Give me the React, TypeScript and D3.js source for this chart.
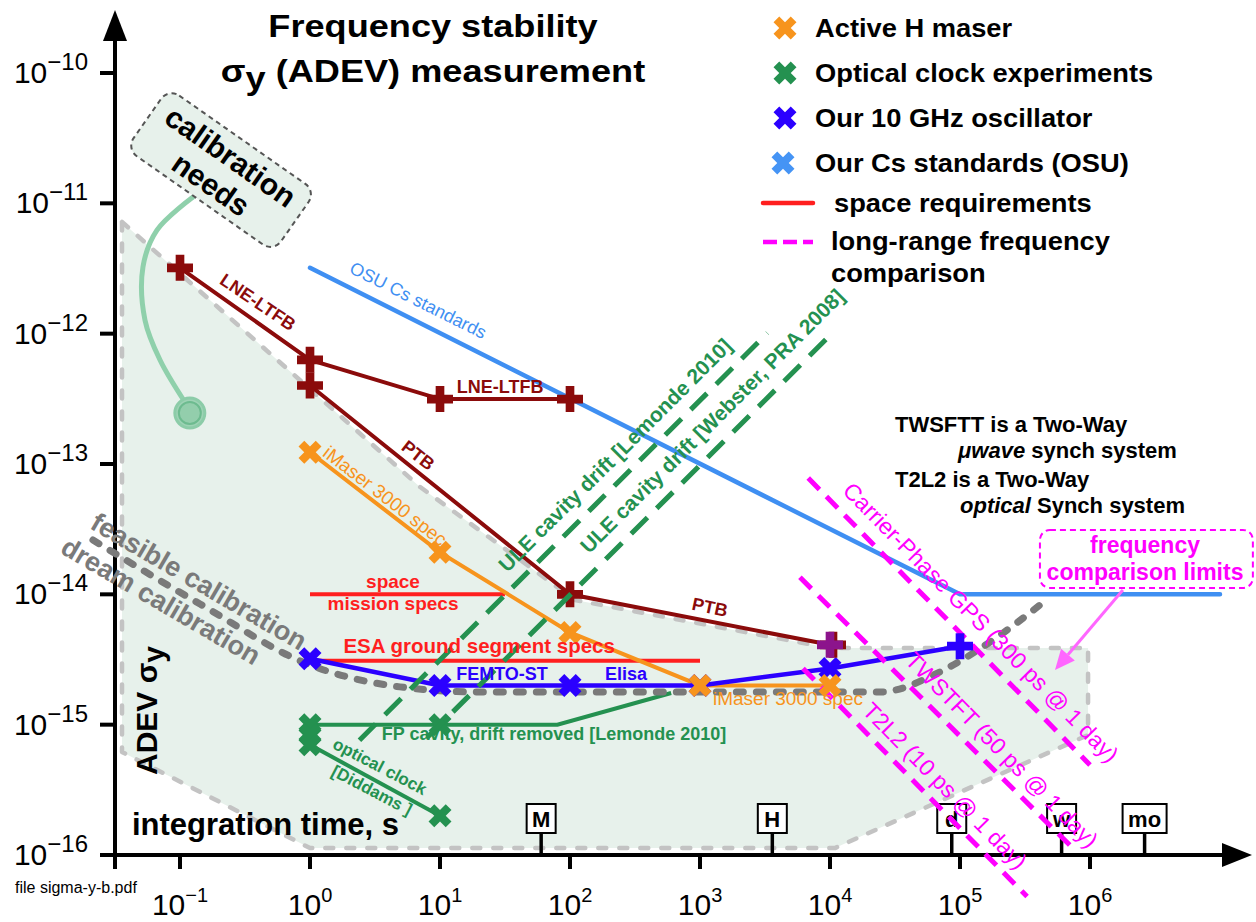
import React from "react";
import * as d3 from "d3";

// ---------- axis ticks ----------
const xTickValues = [0.1, 1, 10, 100, 1e3, 1e4, 1e5, 1e6];
const xTickExponents = ["−1", "0", "1", "2", "3", "4", "5", "6"];
const yTickValues = [1e-10, 1e-11, 1e-12, 1e-13, 1e-14, 1e-15, 1e-16];
const yTickExponents = ["−10", "−11", "−12", "−13", "−14", "−15", "−16"];

// ---------- series ----------
const lneTau = [0.1, 1, 10, 100];
const lneSigma = [3.2e-12, 6.3e-13, 3.15e-13, 3.15e-13];
const ptbTau = [1, 100, 1e4];
const ptbSigma = [4e-13, 1e-14, 4.1e-15];
const osuTau = [1, 1e5, 1e7];
const osuSigma = [3.2e-12, 1e-14, 1e-14];
const imaserTau = [1, 10, 100, 1e3, 1e4];
const imaserSigma = [1.23e-13, 2.1e-14, 5.1e-15, 2e-15, 2e-15];
const oscTau = [1, 10, 100, 1e3, 1e4, 1e5];
const oscSigma = [3.2e-15, 2e-15, 2e-15, 2e-15, 2.7e-15, 4e-15];
const fpTau = [1, 10, 80, 600];
const fpSigma = [1e-15, 1e-15, 1e-15, 1.75e-15];
const diddamsTau = [1, 10];
const diddamsSigma = [7e-16, 2e-16];
const greenMarkTau = [1, 1, 1, 10, 10];
const greenMarkSigma = [1e-15, 8.4e-16, 7e-16, 1e-15, 2e-16];
const uleLemondeTau = [2.4, 3300];
const uleLemondeSigma = [7.6e-16, 1.01e-12];
const uleWebsterTau = [8, 1.04e4];
const uleWebsterSigma = [8e-16, 1.01e-12];
const spaceMissionTau = [1, 31.6];
const spaceMissionSigma = [1e-14, 1e-14];
const esaTau = [1, 1e3];
const esaSigma = [3.1e-15, 3.1e-15];
const gpsTau = [6800, 1e6];
const gpsSigma = [7.8e-14, 4.9e-16];
const twstftTau = [5870, 7.0e5];
const twstftSigma = [1.35e-14, 1.19e-16];
const t2l2Tau = [6200, 3.28e5];
const t2l2Sigma = [2.7e-15, 4.8e-17];
const calibTau = [0.0214, 0.1426, 1, 4.92, 20.3, 2.43e4, 7.0e4, 1.7e5, 4.12e5];
const calibSigma = [2.61e-14, 8.43e-15, 2.87e-15, 1.95e-15, 1.78e-15, 1.78e-15, 2.54e-15, 4.3e-15, 8.28e-15];
const regionTau = [0.0358, 7.02, 49.2, 109, 1e4, 9.66e5, 9.66e5, 1.09e4, 1, 0.0358];
const regionSigma = [7.2e-12, 6.67e-14, 1.62e-14, 9.05e-15, 3.87e-15, 3.87e-15, 8.33e-16, 1.13e-16, 1.13e-16, 6.17e-16];
const connectorTau = [0.126, 0.0665, 0.0519, 0.0538, 0.0702, 0.109];
const connectorSigma = [1.12e-11, 6.24e-12, 3.25e-12, 1.27e-12, 6.28e-13, 2.99e-13];

const timeMarkTau = [60, 3600, 86400, 604800, 2.63e6];
const timeMarkLabels = ["M", "H", "d", "w", "mo"];

const legendLabels = ["Active H maser", "Optical clock experiments", "Our 10 GHz oscillator", "Our Cs standards (OSU)"];
const legendColors = ["#f7941d", "#249150", "#2b00ff", "#4594f5"];

const C = {
  darkRed: "#8b0b0b",
  purple: "#8c148c",
  osu: "#3f8ff2",
  orange: "#f7941d",
  green: "#249150",
  blue: "#2b00ff",
  red: "#ff1f1f",
  magenta: "#ff00ff",
  gray: "#7a7a7a",
  regionStroke: "#c3c3c3",
  regionFill: "#e7f1eb",
};

type Pt = [number, number];

function Label(props: any) {
  const { p, rot = 0, sx = 1, size, weight = 700, fill = "#000", anchor = "middle", dy = "0.35em", children, style } = props;
  return (
    <g transform={`translate(${p[0]},${p[1]}) rotate(${rot}) scale(${sx},1)`}>
      <text textAnchor={anchor} dy={dy} fontSize={size} fontWeight={weight} fill={fill} style={style}>
        {children}
      </text>
    </g>
  );
}

export default function App() {
  const x = d3.scaleLog().domain([1, 1e5]).range([310, 960]);
  const y = d3.scaleLog().domain([1e-16, 1e-10]).range([855, 73]);
  const P = (t: number, s: number): Pt => [x(t), y(s)];
  const zip = (ts: number[], ss: number[]) => ts.map((t, i) => [t, ss[i]] as Pt);
  const line = d3.line<Pt>().x((d) => x(d[0])).y((d) => y(d[1]));
  const smooth = d3.line<Pt>().x((d) => x(d[0])).y((d) => y(d[1])).curve(d3.curveMonotoneX);
  const bendy = d3.line<Pt>().x((d) => x(d[0])).y((d) => y(d[1])).curve(d3.curveCatmullRom.alpha(0.5));

  const plusPath = d3.symbol().type(d3.symbolCross).size(375)() as string;
  const crossPath = d3.symbol().type(d3.symbolCross).size(330)() as string;

  const Plus = ({ t, s, color, dx = 0 }: any) => (
    <path d={plusPath} transform={`translate(${x(t) + dx},${y(s)})`} fill={color} />
  );
  const Xm = ({ t, s, color }: any) => (
    <path d={crossPath} transform={`translate(${x(t)},${y(s)}) rotate(45)`} fill={color} />
  );

  const axisY = y(1e-16);
  const axisX = 115;

  // arrow for "frequency comparison limits"
  const a0 = P(1.79e6, 1.08e-14);
  const a1 = P(5.38e5, 2.63e-15);
  const ang = Math.atan2(a1[1] - a0[1], a1[0] - a0[0]);
  const ux = Math.cos(ang), uy = Math.sin(ang);
  const headLen = 20, headW = 9;
  const hb: Pt = [a1[0] - ux * headLen, a1[1] - uy * headLen];
  const head = `M${a1[0]},${a1[1]}L${hb[0] - uy * headW},${hb[1] + ux * headW}L${hb[0] + uy * headW},${hb[1] - ux * headW}Z`;

  const boxTL = P(4.12e5, 3.12e-14);
  const boxBR = P(1.79e7, 1.12e-14);
  const calBox = P(0.207, 1.8e-11);

  return (
    <svg
      width={1256}
      height={922}
      style={{ position: "absolute", left: 0, top: 0, background: "#fff" }}
      fontFamily="'Liberation Sans', Arial, Helvetica, sans-serif"
    >
      <rect x={0} y={0} width={1256} height={922} fill="#fff" />

      {/* feasible region */}
      <path
        d={line(zip(regionTau, regionSigma)) + "Z"}
        fill={C.regionFill}
        stroke={C.regionStroke}
        strokeWidth={4.5}
        strokeDasharray="8 13"
        strokeLinecap="round"
        strokeLinejoin="round"
      />

      {/* calibration needs annotation */}
      <path d={bendy(zip(connectorTau, connectorSigma)) as string} fill="none" stroke="#8fd0ab" strokeWidth={5} strokeLinecap="round" />
      <circle cx={x(0.119)} cy={y(2.46e-13)} r={15} fill="#9ed3b5" stroke="#8ccca8" strokeWidth={3} />
      <circle cx={x(0.119)} cy={y(2.46e-13)} r={11} fill="#93ceac" stroke="#6dbb8f" strokeWidth={2} />
      <g transform={`translate(${calBox[0]},${calBox[1]}) rotate(35)`}>
        <rect x={-90} y={-37} width={180} height={74} rx={13} fill={C.regionFill} stroke="#555" strokeWidth={2} strokeDasharray="5 4" />
        <text y={-6} textAnchor="middle" fontSize={30} fontWeight={700}>calibration</text>
        <text y={28} textAnchor="middle" fontSize={30} fontWeight={700}>needs</text>
      </g>

      {/* axes */}
      <line x1={axisX} x2={axisX} y1={38} y2={869} stroke="#000" strokeWidth={4} />
      <path d={`M${axisX - 12},41L${axisX + 12},41L${axisX},10Z`} fill="#000" />
      <line x1={axisX - 2} x2={1224} y1={axisY} y2={axisY} stroke="#000" strokeWidth={4} />
      <path d={`M1222,${axisY - 12}L1222,${axisY + 12}L1252,${axisY}Z`} fill="#000" />
      {yTickValues.map((v, i) => (
        <g key={"yt" + i}>
          <line x1={100} x2={axisX} y1={y(v)} y2={y(v)} stroke="#000" strokeWidth={4} />
          <text x={88} y={y(v) + 10} textAnchor="end" fontSize={30}>
            10<tspan dy={-13} fontSize={24}>{yTickExponents[i]}</tspan>
          </text>
        </g>
      ))}
      {xTickValues.map((v, i) => (
        <g key={"xt" + i}>
          <line x1={x(v)} x2={x(v)} y1={axisY} y2={axisY + 14} stroke="#000" strokeWidth={4} />
          <text x={x(v)} y={915} textAnchor="middle" fontSize={30}>
            10<tspan dy={-13} fontSize={20}>{xTickExponents[i]}</tspan>
          </text>
        </g>
      ))}

      {/* requirement lines */}
      <path d={line(zip(spaceMissionTau, spaceMissionSigma)) as string} stroke={C.red} strokeWidth={4} fill="none" />
      <path d={line(zip(esaTau, esaSigma)) as string} stroke={C.red} strokeWidth={4} fill="none" />

      {/* optical clock experiments */}
      <path d={line(zip(fpTau, fpSigma)) as string} stroke={C.green} strokeWidth={4} fill="none" />
      <path d={line(zip(diddamsTau, diddamsSigma)) as string} stroke={C.green} strokeWidth={4} fill="none" />

      {/* calibration dream line */}
      <path
        d={smooth(zip(calibTau, calibSigma)) as string}
        stroke={C.gray}
        strokeWidth={7}
        strokeDasharray="7 13"
        strokeLinecap="round"
        fill="none"
      />

      {/* iMaser */}
      <path d={line(zip(imaserTau, imaserSigma)) as string} stroke={C.orange} strokeWidth={4} fill="none" />
      {/* 10 GHz oscillator */}
      <path d={line(zip(oscTau, oscSigma)) as string} stroke={C.blue} strokeWidth={4.5} fill="none" />
      {/* LNE / PTB */}
      <path d={line(zip(lneTau, lneSigma)) as string} stroke={C.darkRed} strokeWidth={4} fill="none" />
      <path d={line(zip(ptbTau, ptbSigma)) as string} stroke={C.darkRed} strokeWidth={4} fill="none" />
      {/* OSU */}
      <path d={line(zip(osuTau, osuSigma)) as string} stroke={C.osu} strokeWidth={4.5} fill="none" strokeLinecap="round" />

      {/* time marks */}
      {timeMarkTau.map((t, i) => {
        const w = timeMarkLabels[i].length > 1 ? 44 : 29;
        return (
          <g key={"tm" + i}>
            <line x1={x(t)} x2={x(t)} y1={axisY - 23} y2={axisY} stroke="#000" strokeWidth={3.5} />
            <rect x={x(t) - w / 2} y={axisY - 51} width={w} height={29} fill="#fff" stroke="#000" strokeWidth={2} />
            <text x={x(t)} y={axisY - 28} textAnchor="middle" fontSize={22} fontWeight={700}>
              {timeMarkLabels[i]}
            </text>
          </g>
        );
      })}

      {/* long range comparison */}
      {[
        [gpsTau, gpsSigma],
        [twstftTau, twstftSigma],
        [t2l2Tau, t2l2Sigma],
      ].map((d, i) => (
        <path key={"mg" + i} d={line(zip(d[0], d[1])) as string} stroke={C.magenta} strokeWidth={5} strokeDasharray="16 10" fill="none" />
      ))}

      {/* markers */}
      {greenMarkTau.map((t, i) => (
        <Xm key={"gm" + i} t={t} s={greenMarkSigma[i]} color={C.green} />
      ))}
      {oscTau.slice(0, 5).map((t, i) => (
        <Xm key={"bm" + i} t={t} s={oscSigma[i]} color={C.blue} />
      ))}
      <Plus t={oscTau[5]} s={oscSigma[5]} color={C.blue} />
      {imaserTau.map((t, i) => (
        <Xm key={"om" + i} t={t} s={imaserSigma[i]} color={C.orange} />
      ))}
      {lneTau.map((t, i) => (
        <Plus key={"lm" + i} t={t} s={lneSigma[i]} color={C.darkRed} />
      ))}
      {ptbTau.slice(0, 2).map((t, i) => (
        <Plus key={"pm" + i} t={t} s={ptbSigma[i]} color={C.darkRed} />
      ))}
      <Plus t={ptbTau[2]} s={ptbSigma[2]} color={C.darkRed} dx={3} />
      <Plus t={ptbTau[2]} s={ptbSigma[2]} color={C.purple} />

      {/* ULE cavity drift */}
      <path d={line(zip(uleLemondeTau, uleLemondeSigma)) as string} stroke={C.green} strokeWidth={5} strokeDasharray="23 13" fill="none" />
      <path d={line(zip(uleWebsterTau, uleWebsterSigma)) as string} stroke={C.green} strokeWidth={5} strokeDasharray="23 13" fill="none" />

      {/* frequency comparison limits box + arrow */}
      <rect
        x={boxTL[0]}
        y={boxTL[1]}
        width={boxBR[0] - boxTL[0]}
        height={boxBR[1] - boxTL[1]}
        rx={10}
        fill="#fff"
        stroke={C.magenta}
        strokeWidth={2}
        strokeDasharray="6 4"
      />
      <Label p={P(2.65e6, 2.07e-14)} size={23} fill={C.magenta} dy="0">frequency</Label>
      <Label p={P(2.65e6, 1.29e-14)} size={23} fill={C.magenta} dy="0">comparison limits</Label>
      <line x1={a0[0]} y1={a0[1]} x2={hb[0]} y2={hb[1]} stroke="#ff66ff" strokeWidth={3} />
      <path d={head} fill="#ff66ff" />

      {/* series labels */}
      <Label p={P(0.398, 1.75e-12)} rot={34} size={18} fill={C.darkRed}>LNE-LTFB</Label>
      <Label p={P(29, 3.5e-13)} size={18} fill={C.darkRed} dy="0">LNE-LTFB</Label>
      <Label p={P(6.8, 1.17e-13)} rot={38} size={18} fill={C.darkRed}>PTB</Label>
      <Label p={P(1190, 8e-15)} rot={12} size={18} fill={C.darkRed}>PTB</Label>
      <Label p={P(6.8, 1.81e-12)} rot={26.6} size={18} weight={400} fill={C.osu}>OSU Cs standards</Label>
      <Label p={P(3.78, 5.7e-14)} rot={37.6} size={19} weight={400} fill={C.orange}>iMaser 3000 spec</Label>
      <Label p={P(4750, 1.42e-15)} size={19} weight={400} fill={C.orange} dy="0">iMaser 3000 spec</Label>
      <Label p={P(4.35, 1.12e-14)} size={19} fill={C.red} dy="0">space</Label>
      <Label p={P(4.35, 7.6e-15)} size={19} fill={C.red} dy="0">mission specs</Label>
      <Label p={P(20, 3.55e-15)} size={20.5} fill={C.red} dy="0">ESA ground segment specs</Label>
      <Label p={P(30, 2.2e-15)} size={18} fill={C.blue} dy="0">FEMTO-ST</Label>
      <Label p={P(270, 2.2e-15)} size={18} fill={C.blue} dy="0">Elisa</Label>
      <Label p={P(75.3, 7.6e-16)} size={18} fill={C.green} dy="0">FP cavity, drift removed [Lemonde 2010]</Label>
      <Label p={P(3.45, 4.8e-16)} rot={27.6} size={17} fill={C.green}>optical clock</Label>
      <Label p={P(3.0, 3.15e-16)} rot={27.6} size={17} fill={C.green}>[Diddams ]</Label>
      <Label p={P(222, 1.17e-13)} rot={-45} size={21} fill={C.green}>ULE cavity drift [Lemonde 2010]</Label>
      <Label p={P(1240, 2.14e-13)} rot={-45} size={21} fill={C.green}>ULE cavity drift [Webster, PRA 2008]</Label>
      <Label p={P(1.45e5, 6.1e-15)} rot={45.5} size={23} weight={400} fill={C.magenta}>Carrier-Phase GPS (300 ps @ 1 day)</Label>
      <Label p={P(2.1e5, 6.4e-16)} rot={45.5} size={23} weight={400} fill={C.magenta}>TWSTFT (50 ps @ 1 day)</Label>
      <Label p={P(7.67e4, 3.4e-16)} rot={45.5} size={23} weight={400} fill={C.magenta}>T2L2 (10 ps @ 1 day)</Label>
      <Label p={P(0.14, 1.26e-14)} rot={30.3} size={27} fill={C.gray}>feasible calibration</Label>
      <Label p={P(0.0714, 8.9e-15)} rot={30.3} size={27} fill={C.gray}>dream calibration</Label>

      {/* notes */}
      <Label p={P(3.16e4, 1.76e-13)} size={22} anchor="start" dy="0">TWSFTT is a Two-Way</Label>
      <Label p={P(9.66e4, 1.11e-13)} size={22} anchor="start" dy="0">
        <tspan fontStyle="italic">μwave</tspan> synch system
      </Label>
      <Label p={P(3.16e4, 6.67e-14)} size={22} anchor="start" dy="0">T2L2 is a Two-Way</Label>
      <Label p={P(1e5, 4.2e-14)} size={22} anchor="start" dy="0">
        <tspan fontStyle="italic">optical</tspan> Synch system
      </Label>

      {/* axis titles */}
      <g transform={`translate(157,775) rotate(-90)`}>
        <text fontSize={30} fontWeight={700}>
          ADEV σ<tspan dy={7}>y</tspan>
        </text>
      </g>
      <text x={132} y={835} fontSize={31} fontWeight={700}>integration time, s</text>
      <text x={15} y={893} fontSize={16}>file sigma-y-b.pdf</text>

      {/* title */}
      <Label p={[433, 37]} size={32} sx={1.13} dy="0">Frequency stability</Label>
      <Label p={[433, 82]} size={32} sx={1.13} dy="0">
        σ<tspan dy={7}>y</tspan>
        <tspan dy={-7}> (ADEV) measurement</tspan>
      </Label>

      {/* legend */}
      {legendLabels.map((lab, i) => (
        <g key={"lg" + i}>
          <path d={crossPath} transform={`translate(${i === 3 ? 783 : 785},${28 + 45 * i}) rotate(45)`} fill={legendColors[i]} />
          <Label p={[815, 37 + 45 * i]} size={26} sx={1.05} anchor="start" dy="0">{lab}</Label>
        </g>
      ))}
      <line x1={763} x2={813} y1={203} y2={203} stroke={C.red} strokeWidth={4.5} strokeLinecap="round" />
      <Label p={[834, 212]} size={26} sx={1.05} anchor="start" dy="0">space requirements</Label>
      <line x1={763} x2={813} y1={242} y2={242} stroke={C.magenta} strokeWidth={4.5} strokeDasharray="14 6" />
      <Label p={[831, 250]} size={26} sx={1.05} anchor="start" dy="0">long-range frequency</Label>
      <Label p={[831, 282]} size={26} sx={1.05} anchor="start" dy="0">comparison</Label>
    </svg>
  );
}
